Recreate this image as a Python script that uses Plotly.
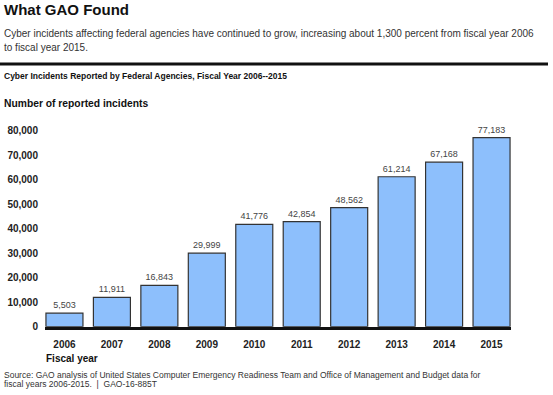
import plotly.graph_objects as go

years = ["2006", "2007", "2008", "2009", "2010", "2011", "2012", "2013", "2014", "2015"]
incidents = [5503, 11911, 16843, 29999, 41776, 42854, 48562, 61214, 67168, 77183]
ytick_vals = [0, 10000, 20000, 30000, 40000, 50000, 60000, 70000, 80000]
ytick_text = ["0", "10,000", "20,000", "30,000", "40,000", "50,000", "60,000", "70,000", "80,000"]

W, H = 553, 395
FONT = "Arial, Liberation Sans, sans-serif"


def py(px):
    return 1 - px / H


def px_x(px):
    return px / W


fig = go.Figure()
fig.add_trace(go.Bar(
    x=years,
    y=incidents,
    width=0.78,
    marker=dict(color="#8dbffc", line=dict(color="#333333", width=1.2)),
    text=[f"{v:,}" for v in incidents],
    textposition="outside",
    textfont=dict(family=FONT, size=9, color="#444444"),
    cliponaxis=False,
    hoverinfo="skip",
))

fig.update_layout(
    width=W, height=H,
    margin=dict(l=0, r=0, t=0, b=0),
    paper_bgcolor="white",
    plot_bgcolor="white",
    showlegend=False,
    font=dict(family=FONT, color="#222222"),
    xaxis=dict(
        domain=[px_x(45), px_x(511)],
        range=[-0.41, 9.41],
        showline=True, linecolor="#111111", linewidth=3,
        ticks="", showgrid=False,
        tickfont=dict(family=FONT, size=10, color="#222222", weight="bold"),
        ticklabelstandoff=6,
    ),
    yaxis=dict(
        domain=[py(330), py(129)],
        range=[0, 80000],
        tickvals=ytick_vals,
        ticktext=ytick_text,
        showgrid=False, zeroline=False, showline=False, ticks="",
        tickfont=dict(family=FONT, size=10, color="#222222", weight="bold"),
        ticklabelstandoff=6,
    ),
)

fig.add_shape(type="line", xref="paper", yref="paper",
              x0=0, x1=px_x(548), y0=py(60.5), y1=py(60.5),
              line=dict(color="#111111", width=3))

def note(text, x, y, size, bold=False, color="#222222", yanchor="middle"):
    fig.add_annotation(
        text=f"<b>{text}</b>" if bold else text,
        xref="paper", yref="paper", x=px_x(x), y=py(y),
        xanchor="left", yanchor=yanchor, showarrow=False, borderpad=0,
        font=dict(family=FONT, size=size, color=color), align="left",
    )

note("What GAO Found", 3, 5, 15, bold=True, color="#111111")
note("Cyber incidents affecting federal agencies have continued to grow, increasing about 1,300 percent from fiscal year 2006", 3, 29, 10, color="#333333")
note("to fiscal year 2015.", 3, 43.5, 10, color="#333333")
note("Cyber Incidents Reported by Federal Agencies, Fiscal Year 2006--2015", 3, 73, 8.5, bold=True, color="#111111")
note("Number of reported incidents", 3, 101.5, 10.3, bold=True, color="#111111")
note("Fiscal year", 45, 363, 10, bold=True, color="#111111")
note("Source: GAO analysis of United States Computer Emergency Readiness Team and Office of Management and Budget data for", 3, 386, 8.5, color="#333333", yanchor="bottom")
note("fiscal years 2006-2015.  |  GAO-16-885T", 3, 395, 8.5, color="#333333", yanchor="bottom")

fig.write_html(
    "out.html",
    config={"displayModeBar": False},
    post_script="document.body.style.margin='0';document.body.style.overflow='hidden';",
)
